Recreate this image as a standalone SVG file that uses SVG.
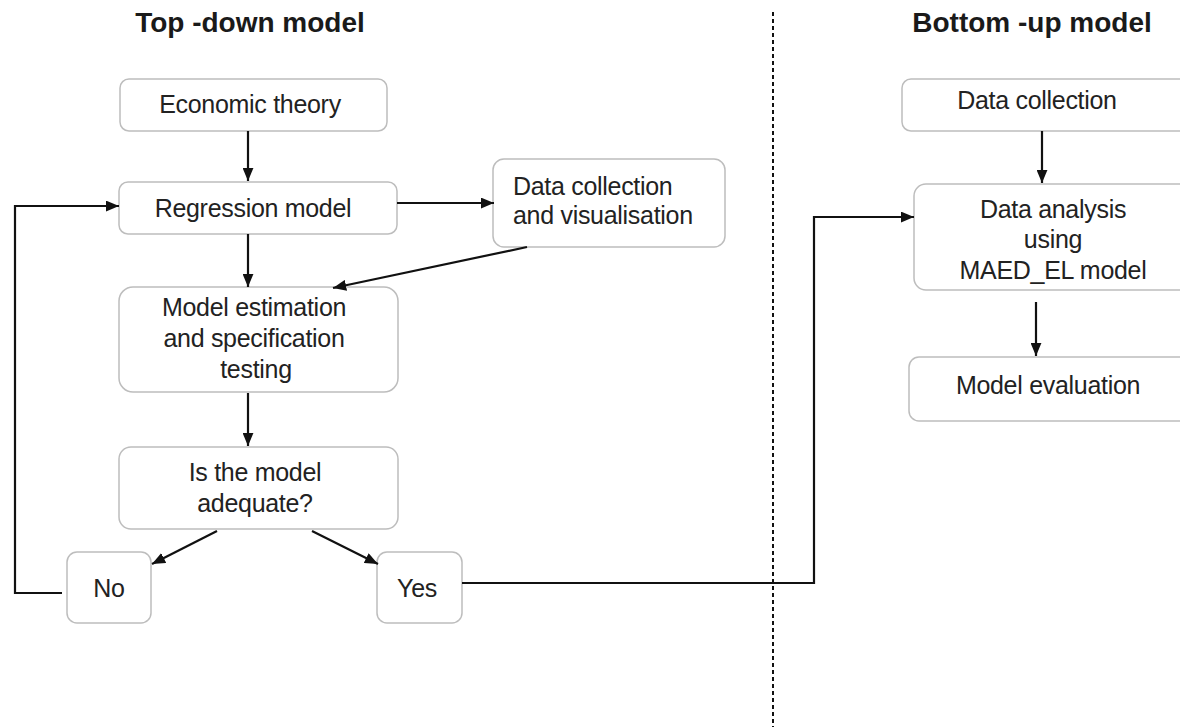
<svg xmlns="http://www.w3.org/2000/svg" width="1180" height="727" viewBox="0 0 1180 727">
  <style>
    .box { fill: #ffffff; stroke: #bdbdbd; stroke-width: 1.5; }
    .lbl { font-family: "Liberation Sans", Arial, sans-serif; font-size: 25px; letter-spacing: -0.3px; fill: #222222; text-anchor: middle; }
    .lbl-left { text-anchor: start; }
    .title { font-family: "Liberation Sans", Arial, sans-serif; font-size: 28px; font-weight: bold; fill: #1a1a1a; text-anchor: middle; }
    .conn { fill: none; stroke: #111111; stroke-width: 2.2; }
    .divider { fill: none; stroke: #111111; stroke-width: 2; stroke-dasharray: 4 3; }
  </style>
  <defs>
    <marker id="arrow" viewBox="0 0 12 10" refX="12" refY="5" markerWidth="6" markerHeight="5" orient="auto" markerUnits="strokeWidth">
      <path d="M0,0 L12,5 L0,10 z" fill="#111111"/>
    </marker>
  </defs>

  <rect width="1180" height="727" fill="#ffffff"/>

  <!-- section titles -->
  <text class="title" x="250" y="32">Top -down model</text>
  <text class="title" x="1032" y="32">Bottom -up model</text>

  <!-- dotted divider between the two approaches -->
  <line class="divider" x1="773" y1="12" x2="773" y2="727"/>

  <!-- top-down nodes -->
  <g id="economic-theory">
    <rect class="box" x="120" y="79" width="267" height="52" rx="9"/>
    <text class="lbl" x="250" y="113">Economic theory</text>
  </g>
  <g id="regression-model">
    <rect class="box" x="119" y="182" width="278" height="52" rx="9"/>
    <text class="lbl" x="253" y="217">Regression model</text>
  </g>
  <g id="data-collection-visualisation">
    <rect class="box" x="493" y="159" width="232" height="88" rx="11"/>
    <text class="lbl lbl-left" x="513" y="195">Data collection</text>
    <text class="lbl lbl-left" x="513" y="224">and visualisation</text>
  </g>
  <g id="model-estimation">
    <rect class="box" x="119" y="287" width="279" height="105" rx="14"/>
    <text class="lbl" x="254" y="316">Model estimation</text>
    <text class="lbl" x="254" y="347">and specification</text>
    <text class="lbl" x="256" y="378">testing</text>
  </g>
  <g id="model-adequate">
    <rect class="box" x="119" y="447" width="279" height="82" rx="12"/>
    <text class="lbl" x="255" y="481">Is the model</text>
    <text class="lbl" x="255" y="512">adequate?</text>
  </g>
  <g id="answer-no">
    <rect class="box" x="67" y="552" width="84" height="71" rx="10"/>
    <text class="lbl" x="109" y="597">No</text>
  </g>
  <g id="answer-yes">
    <rect class="box" x="377" y="552" width="85" height="71" rx="10"/>
    <text class="lbl" x="417" y="597">Yes</text>
  </g>

  <!-- bottom-up nodes -->
  <g id="data-collection">
    <rect class="box" x="902" y="79" width="290" height="52" rx="9"/>
    <text class="lbl" x="1037" y="109">Data collection</text>
  </g>
  <g id="data-analysis">
    <rect class="box" x="914" y="184" width="280" height="106" rx="12"/>
    <text class="lbl" x="1053" y="218">Data analysis</text>
    <text class="lbl" x="1053" y="248">using</text>
    <text class="lbl" x="1053" y="279">MAED_EL model</text>
  </g>
  <g id="model-evaluation">
    <rect class="box" x="909" y="357" width="290" height="64" rx="10"/>
    <text class="lbl" x="1048" y="394">Model evaluation</text>
  </g>

  <!-- connectors -->
  <g id="connectors">
    <line class="conn" x1="248" y1="131" x2="248" y2="181" marker-end="url(#arrow)"/>
    <line class="conn" x1="397" y1="203" x2="494" y2="203" marker-end="url(#arrow)"/>
    <line class="conn" x1="248" y1="234" x2="248" y2="287" marker-end="url(#arrow)"/>
    <line class="conn" x1="527" y1="247" x2="333" y2="288" marker-end="url(#arrow)"/>
    <line class="conn" x1="248" y1="393" x2="248" y2="446" marker-end="url(#arrow)"/>
    <line class="conn" x1="217" y1="531" x2="152" y2="564" marker-end="url(#arrow)"/>
    <line class="conn" x1="312" y1="531" x2="378" y2="564" marker-end="url(#arrow)"/>
    <polyline class="conn" points="62,593 15,593 15,206 119,206" marker-end="url(#arrow)"/>
    <polyline class="conn" points="462,583 814,583 814,217 914,217" marker-end="url(#arrow)"/>
    <line class="conn" x1="1042" y1="131" x2="1042" y2="183" marker-end="url(#arrow)"/>
    <line class="conn" x1="1036" y1="302" x2="1036" y2="356" marker-end="url(#arrow)"/>
  </g>
</svg>
